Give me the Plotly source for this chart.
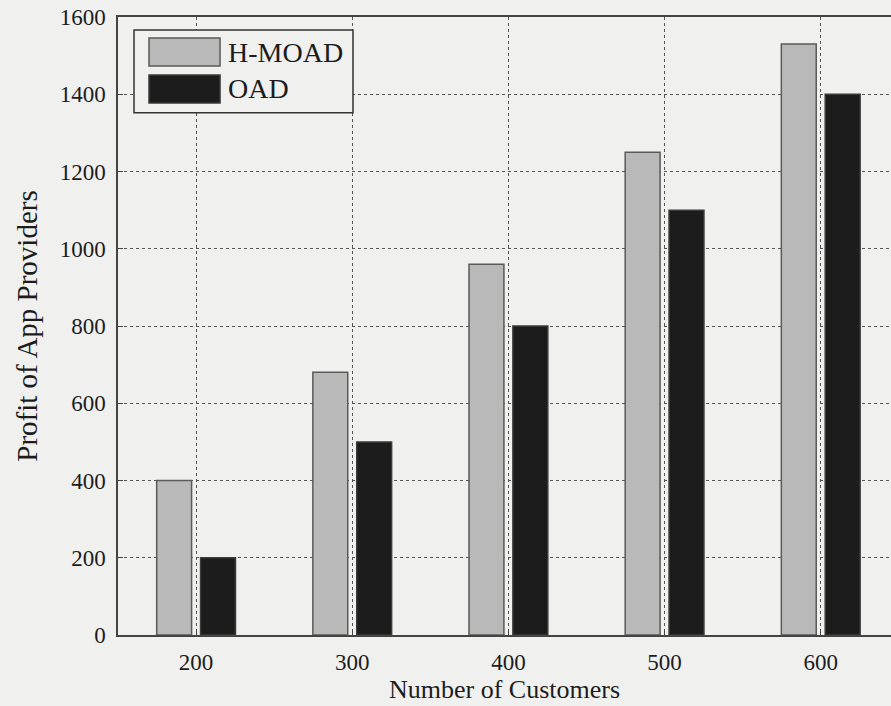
import plotly.graph_objects as go

# Data
customers = ["200", "300", "400", "500", "600"]
h_moad = [400, 680, 960, 1250, 1530]
oad = [200, 500, 800, 1100, 1400]
series_names = ["H-MOAD", "OAD"]
fill_colors = ["#b9b9b9", "#1c1c1c"]
edge_colors = ["#5a5a5a", "#3a3a3a"]
y_ticks = [0, 200, 400, 600, 800, 1000, 1200, 1400, 1600]

FONT = "Liberation Serif"
INK = "#1c1c1c"
BG = "#f0f0ef"

fig = go.Figure()
for name, vals, fc, ec in zip(series_names, [h_moad, oad], fill_colors, edge_colors):
    fig.add_trace(go.Bar(
        x=customers, y=vals, name=name,
        marker=dict(color=fc, line=dict(color=ec, width=1.5)),
        showlegend=False,
    ))

# Legend box drawn in paper coordinates
lx0, lx1, ly0, ly1 = 0.0207, 0.304, 0.845, 0.979
shapes = [dict(type="rect", xref="paper", yref="paper", x0=lx0, x1=lx1, y0=ly0, y1=ly1,
               line=dict(color="#333333", width=1.5), fillcolor=BG, layer="above")]
annotations = []
swatch_rows = [(0.9207, 0.966), (0.861, 0.906)]
for (y0, y1), name, fc, ec in zip(swatch_rows, series_names, fill_colors, edge_colors):
    shapes.append(dict(type="rect", xref="paper", yref="paper", x0=0.0401, x1=0.132,
                       y0=y0, y1=y1, fillcolor=fc, line=dict(color=ec, width=1.5),
                       layer="above"))
    annotations.append(dict(xref="paper", yref="paper", x=0.1395, y=(y0 + y1) / 2,
                            text=name, showarrow=False, xanchor="left", yanchor="middle",
                            font=dict(family=FONT, size=28, color=INK)))

fig.update_layout(
    width=891, height=706,
    margin=dict(l=118, r=0, t=17, b=71),
    paper_bgcolor=BG, plot_bgcolor=BG,
    barmode="group", bargap=0.438, bargroupgap=0.2045,
    font=dict(family=FONT, size=23, color=INK),
    shapes=shapes, annotations=annotations,
    xaxis=dict(
        range=[-0.5, 4.45],
        title=dict(text="Number of Customers", font=dict(family=FONT, size=26, color=INK), standoff=5),
        showline=True, linecolor="#444444", linewidth=1.5, mirror=True,
        ticks="inside", ticklen=5, tickcolor="#444444",
        showgrid=True, gridcolor="#555555", griddash="dot", gridwidth=1,
        tickfont=dict(family=FONT, size=23, color=INK),
        ticklabelstandoff=6,
    ),
    yaxis=dict(
        range=[0, 1600], tickvals=y_ticks,
        title=dict(text="Profit of App Providers", font=dict(family=FONT, size=29, color=INK), standoff=14),
        showline=True, linecolor="#444444", linewidth=1.5,
        ticks="inside", ticklen=5, tickcolor="#444444",
        showgrid=True, gridcolor="#555555", griddash="dot", gridwidth=1,
        zeroline=False,
        tickfont=dict(family=FONT, size=23, color=INK),
        ticklabelstandoff=6,
    ),
)

fig.write_html("out.html")
